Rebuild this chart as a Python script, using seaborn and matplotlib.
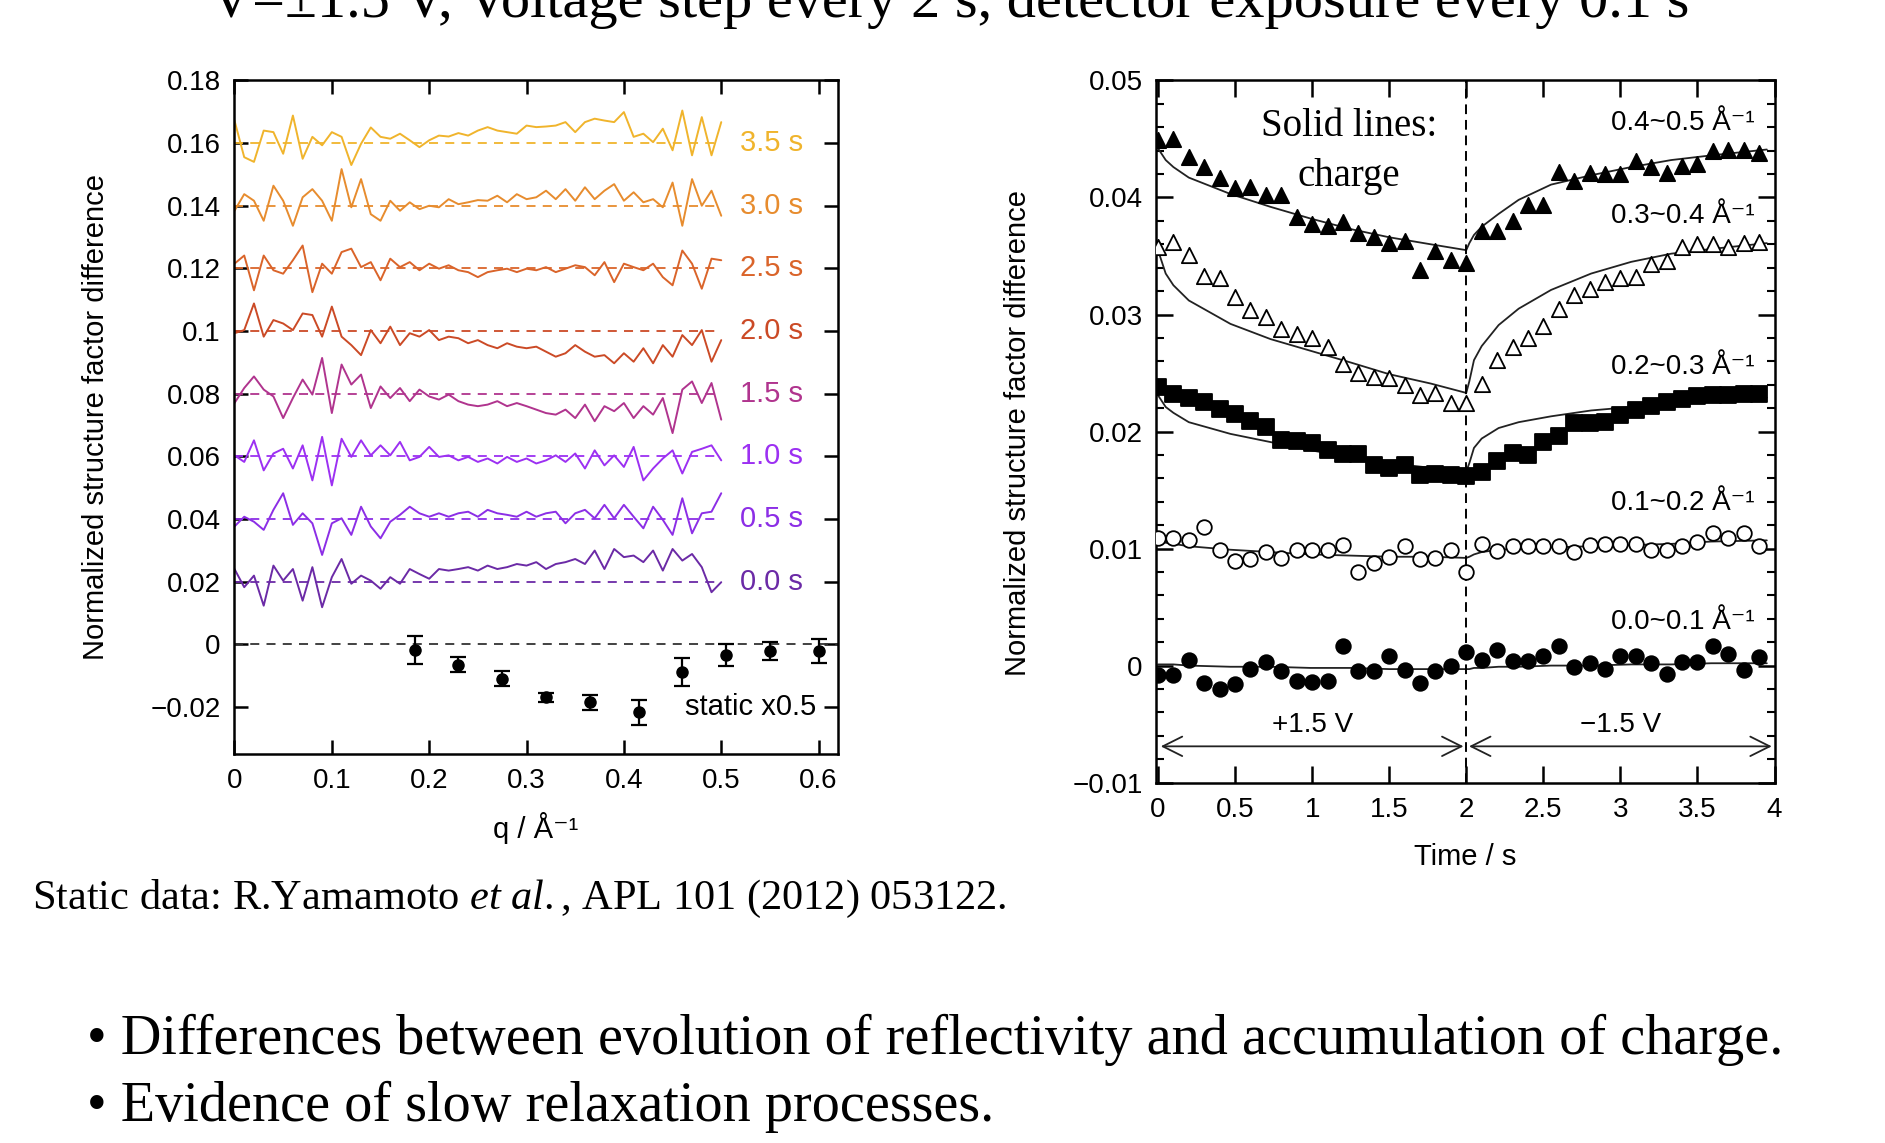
import numpy as np
import pandas as pd
import seaborn as sns
import matplotlib.pyplot as plt
from matplotlib.ticker import MultipleLocator, FuncFormatter

# ---------------- left panel: time-resolved difference curves ----------------
q = np.round(np.arange(0, 0.501, 0.01), 2)
time_labels = ["0.0 s", "0.5 s", "1.0 s", "1.5 s", "2.0 s", "2.5 s", "3.0 s", "3.5 s"]
offsets = [0.02, 0.04, 0.06, 0.08, 0.10, 0.12, 0.14, 0.16]
colors_left = ["#6b2aa6", "#8c2ee6", "#9c30f2", "#b0348e",
               "#cb4a26", "#da642a", "#e78c2e", "#f0b42c"]

# deviations from the dashed baseline, in units of 1e-3
dev_00 = [4, -1.8, 1.9, -7.7, 5.1, 0.3, 4, -6.1, 4.6, -8.2, 1.4, 7.2, -0.7, 1.9, 0.3, -2.3, 1.4,
          -0.7, 4, 2.4, 0.9, 4, 3.5, 4, 4.6, 3.5, 5.1, 4, 4.6, 5.6, 5.1, 6.2, 4, 5.6, 6.2, 7.2,
          5.6, 9.9, 4, 10.4, 7.8, 8.3, 6.2, 9.9, 3.5, 10.4, 6.7, 8.8, 4.6, -3.4, -0.2]
dev_05 = [-2.4, 0.7, -0.9, -3.5, 2.9, 8.2, -1.9, 1.8, -1.4, -11.5, -1.4, 0.2, -5.1, 3.9, -2.4,
          -6.2, -0.9, 1.3, 3.9, 1.8, 0.7, 1.8, 0.7, 1.8, 2.3, 0.7, 2.9, 1.8, 1.3, 0.7, 2.3, 0.7,
          1.8, 2.3, -1.4, 1.8, 2.9, 0.2, 4.5, 0.2, 4.5, 0.7, -3, 3.9, -0.3, -5.1, 6.6, -4.6, 1.8,
          2.3, 8.2]
dev_10 = [0.3, -1.8, 5.1, -4.5, 0.9, 2.4, -3.9, 3.5, -7.7, 6.2, -9.3, 5.6, -0.2, 5.1, 0.3, 3.5,
          0.3, 4.6, -1.3, -0.2, 3, -0.2, 0.3, -1.3, -0.2, -1.8, -0.7, -2.3, -0.2, -1.8, -0.7,
          -2.3, -1.3, 0.3, -1.8, 0.9, -3.9, 1.9, -2.9, 0.3, -3.4, 3, -7.7, -3.9, -0.7, 1.9,
          -5.5, 1.4, 2.4, 3.5, -1.3]
dev_15 = [-3, 1.8, 5.5, 1.3, -0.9, -7.8, -1.4, 4.5, -0.3, 11.4, -6.2, 9.3, 2.9, 6.1, -4.6, 2.3,
          -1.4, 1.8, -2.4, 1.3, -0.9, -1.9, -0.3, -2.4, -3.5, -4, -3.5, -2.4, -4, -3, -4, -5.1,
          -6.2, -6.7, -5.1, -7.8, -3.5, -8.8, -4, -5.6, -3, -7.8, -4, -6.7, -1.4, -12.6, 1.3,
          3.9, -3, 3.4, -8.3]
dev_20 = [-0.7, 0.3, 8.8, -1.8, 3.5, 2.4, 0.3, 5.6, 5.1, -1.8, 7.8, -1.8, -4.5, -7.7, 0.3, -3.9,
          1.4, -4.5, -0.7, -1.8, 0.3, -2.9, -1.8, -2.3, -3.9, -2.9, -4.5, -5.5, -3.9, -5, -5.5,
          -5, -6.6, -8.2, -7.1, -4.5, -6.6, -8.2, -7.7, -10.3, -7.1, -9.8, -5.5, -10.3, -4.5,
          -8.2, -1.3, -4.5, 0.3, -9.8, -2.9]
dev_25 = [1.5, 4.1, -7, 4.1, -0.6, -1.7, 2.6, 7.3, -7.6, 1.5, -1.7, 5.2, 6.3, 0.4, 2, -3.8, 3.1,
          0.4, 2, -0.6, 1.5, -0.1, 1, -0.6, -1.2, -2.8, -1.2, -0.6, -0.1, -1.2, -0.1, -0.6, 0.4,
          -1.2, -0.1, 1, 0.4, -2.2, 2, -4.4, 1.5, 0.4, -0.6, 1.5, -2.8, -5.4, 5.7, 1.5, -6.5,
          3.1, 2.6]
dev_30 = [-1.6, 3.7, 1.6, -4.8, 6.4, 1.6, -6.4, 2.7, 5.3, 1.6, -4.8, 11.7, -0.5, 8.5, -2.7,
          -4.8, 1.6, -1.6, 1.1, -1.1, 0, -0.5, 2.1, 0.5, 1.1, 1.8, 1.6, 3.2, 1.1, 3.7, 2.1, 2.7,
          4.8, 2.1, 5.3, 1.6, 5.9, 2.1, 4.8, 6.9, 1.6, 4.3, 1.1, 2.1, -0.5, 7.4, -6.4, 8.5, 0,
          4.8, -3.2]
dev_35 = [7.2, -4.5, -6, 4, 3.5, -3.4, 8.8, -5, 2, -0.7, 3.5, 2, -7, -0.2, 5, 2, 1.4, 3, 0.9,
          -1.3, 0.9, 2.4, 2.1, 3.2, 2.4, 4, 5.1, 4, 3.5, 3, 5.6, 5.1, 5.3, 5.6, 6.7, 3.5, 6.7,
          7.8, 7.2, 6.7, 9.9, 2, 3, 0.3, 4.6, -2.3, 10.4, -3.9, 8.3, -3.9, 6.7]
deviations = [dev_00, dev_05, dev_10, dev_15, dev_20, dev_25, dev_30, dev_35]

static_q = [0.185, 0.23, 0.275, 0.32, 0.365, 0.415, 0.46, 0.505, 0.55, 0.6]
static_val = [-0.0019, -0.0065, -0.0110, -0.0170, -0.0186, -0.0218, -0.0088, -0.0035, -0.0021, -0.0022]
static_err = [0.0045, 0.0025, 0.0025, 0.0013, 0.0025, 0.0040, 0.0045, 0.0035, 0.0028, 0.0037]

# ---------------- right panel: band-integrated signal vs time ----------------
t_pts = np.round(np.arange(40) * 0.1, 1)
band_labels = ["0.4~0.5 Å⁻¹", "0.3~0.4 Å⁻¹", "0.2~0.3 Å⁻¹", "0.1~0.2 Å⁻¹", "0.0~0.1 Å⁻¹"]
band_label_y = [0.0464, 0.0384, 0.0255, 0.0139, 0.0037]
r45 = [0.0449, 0.0450, 0.0435, 0.0426, 0.0417, 0.0408, 0.0409, 0.0402, 0.0402, 0.0383,
       0.0377, 0.0376, 0.0379, 0.0370, 0.0366, 0.0361, 0.0363, 0.0338, 0.0354, 0.0347,
       0.0344, 0.0371, 0.0371, 0.0380, 0.0394, 0.0394, 0.0422, 0.0414, 0.0421, 0.0420,
       0.0420, 0.0431, 0.0426, 0.0421, 0.0427, 0.0429, 0.0440, 0.0441, 0.0441, 0.0438]
r34 = [0.0358, 0.0362, 0.0351, 0.0333, 0.0331, 0.0315, 0.0304, 0.0298, 0.0288, 0.0283,
       0.0280, 0.0272, 0.0258, 0.0250, 0.0247, 0.0246, 0.0240, 0.0231, 0.0233, 0.0224,
       0.0224, 0.0241, 0.0261, 0.0272, 0.0280, 0.0290, 0.0305, 0.0317, 0.0322, 0.0328,
       0.0331, 0.0332, 0.0343, 0.0346, 0.0358, 0.0360, 0.0360, 0.0358, 0.0361, 0.0362]
r23 = [0.0238, 0.0232, 0.0229, 0.0225, 0.0219, 0.0215, 0.0209, 0.0204, 0.0193, 0.0192,
       0.0190, 0.0184, 0.0181, 0.0181, 0.0171, 0.0169, 0.0171, 0.0163, 0.0164, 0.0163,
       0.0162, 0.0165, 0.0175, 0.0182, 0.0180, 0.0191, 0.0196, 0.0207, 0.0207, 0.0208,
       0.0214, 0.0218, 0.0222, 0.0225, 0.0228, 0.0230, 0.0231, 0.0231, 0.0232, 0.0232]
r12 = [0.0109, 0.0109, 0.0107, 0.0118, 0.0099, 0.0089, 0.0091, 0.0097, 0.0092, 0.0099,
       0.0099, 0.0099, 0.0103, 0.0080, 0.0088, 0.0093, 0.0102, 0.0091, 0.0092, 0.0099,
       0.0080, 0.0104, 0.0098, 0.0102, 0.0102, 0.0102, 0.0102, 0.0097, 0.0103, 0.0104,
       0.0104, 0.0104, 0.0099, 0.0099, 0.0102, 0.0106, 0.0113, 0.0109, 0.0113, 0.0102]
r01 = [-0.0008, -0.0008, 0.0005, -0.0015, -0.0020, -0.0016, -0.0003, 0.0003, -0.0005, -0.0013,
       -0.0014, -0.0013, 0.0017, -0.0005, -0.0005, 0.0008, -0.0004, -0.0015, -0.0005, 0.0000,
       0.0012, 0.0005, 0.0013, 0.0004, 0.0004, 0.0008, 0.0017, -0.0001, 0.0002, -0.0003,
       0.0008, 0.0008, 0.0002, -0.0007, 0.0003, 0.0003, 0.0017, 0.0010, -0.0004, 0.0007]
band_data = [r45, r34, r23, r12, r01]
band_markers = ["^", "^", "s", "o", "o"]
band_filled = [True, False, True, False, True]
band_sizes = [11, 11, 12, 10.5, 10.5]

# "charge" curves read at these times
t_charge = [0, 0.05, 0.1, 0.2, 0.47, 0.73, 0.99, 1.25, 1.5, 1.77, 2.0, 2.02, 2.05, 2.1,
            2.21, 2.34, 2.55, 2.81, 3.07, 3.33, 3.59, 3.95]
c45 = [0.0442, 0.0432, 0.0426, 0.0417, 0.0403, 0.0392, 0.0382, 0.0373, 0.0366, 0.0360, 0.0355,
       0.0361, 0.0368, 0.0375, 0.0386, 0.0398, 0.0411, 0.0419, 0.0426, 0.0432, 0.0436, 0.0441]
c34 = [0.0355, 0.0335, 0.0325, 0.0312, 0.0292, 0.0279, 0.0269, 0.0259, 0.0249, 0.0241, 0.0233,
       0.0243, 0.0261, 0.0273, 0.0291, 0.0305, 0.0321, 0.0335, 0.0345, 0.0352, 0.0356, 0.0361]
c23 = [0.0231, 0.0221, 0.0216, 0.0208, 0.0198, 0.0191, 0.0184, 0.0178, 0.0173, 0.0169, 0.0166,
       0.0173, 0.0186, 0.0194, 0.0203, 0.0208, 0.0213, 0.0218, 0.0221, 0.0224, 0.0227, 0.0229]
c12 = [0.0106, 0.0105, 0.0104, 0.0102, 0.0099, 0.0097, 0.0095, 0.0094, 0.0093, 0.0093, 0.0092,
       0.0093, 0.0095, 0.0097, 0.0099, 0.0100, 0.0101, 0.0102, 0.0103, 0.0104, 0.0106, 0.0107]
c01 = [0.0001, 0.0001, 0.0001, 0.0000, -0.0001, -0.0001, -0.0002, -0.0002, -0.0003, -0.0003,
       -0.0003, -0.0003, -0.0002, -0.0002, -0.0001, -0.0001, 0.0000, 0.0000, 0.0001, 0.0001,
       0.0002, 0.0002]
charge_curves = [c45, c34, c23, c12, c01]

sns.set_theme(style="ticks")
plt.rcParams['font.family'] = ['Liberation Sans', 'DejaVu Sans']
plt.rcParams['mathtext.fontset'] = 'custom'
plt.rcParams['mathtext.rm'] = 'Liberation Serif'
plt.rcParams['mathtext.it'] = 'Liberation Serif:italic'
plt.rcParams['axes.linewidth'] = 1.8
for key in ['text.color', 'axes.labelcolor', 'xtick.color', 'ytick.color', 'axes.edgecolor']:
    plt.rcParams[key] = 'black'

fig = plt.figure(figsize=(18.85, 11.43), dpi=100)
ax1 = fig.add_axes([0.1244, 0.3405, 0.3202, 0.5891])
ax2 = fig.add_axes([0.6135, 0.3153, 0.3279, 0.6143])

fmt = FuncFormatter(lambda v, p: f"{v:g}".replace("-", "\u2212"))

# left panel
for lab, off, col, dev in zip(time_labels, offsets, colors_left, deviations):
    yv = off + np.array(dev) * 1e-3
    sns.lineplot(x=q, y=yv, color=col, lw=1.4, estimator=None, sort=False, ax=ax1)
    ax1.plot([q[0], q[-1]], [off, off], color=col, lw=1.3, ls=(0, (5, 4)))
    ax1.text(0.5195, off, lab, color=col, fontsize=21, va="center", ha="left")
ax1.axhline(0, color="#333333", lw=1.3, ls=(0, (5, 4)))
ax1.errorbar(static_q, static_val, yerr=static_err, fmt="o", color="black", ms=8,
             capsize=6, elinewidth=1.6, capthick=1.6)
ax1.text(0.598, -0.02, "static x0.5", fontsize=21, va="center", ha="right")
ax1.set_xlim(0, 0.62)
ax1.set_ylim(-0.035, 0.18)
ax1.xaxis.set_major_locator(MultipleLocator(0.1))
ax1.yaxis.set_major_locator(MultipleLocator(0.02))
ax1.xaxis.set_major_formatter(fmt)
ax1.yaxis.set_major_formatter(fmt)
ax1.tick_params(direction="in", length=10, width=1.8, labelsize=20, pad=10,
                top=True, right=True)
ax1.set_xlabel("q / Å⁻¹", fontsize=21)
ax1.set_ylabel("Normalized structure factor difference", fontsize=21)
ax1.xaxis.set_label_coords(0.499, -0.087)
ax1.yaxis.set_label_coords(-0.206, 0.50)

# right panel
for lab, ly, vals, mk, filled, ms, cv in zip(band_labels, band_label_y, band_data,
                                            band_markers, band_filled, band_sizes,
                                            charge_curves):
    sns.lineplot(x=t_charge, y=cv, color="#222222", lw=1.3, estimator=None, sort=False, ax=ax2)
    sns.scatterplot(x=t_pts, y=vals, marker=mk, s=ms ** 2,
                    color="black" if filled else "white", edgecolor="black",
                    linewidth=1.3, ax=ax2, zorder=3)
    ax2.text(3.87, ly, lab, fontsize=20, ha="right", va="center")
ax2.axvline(2, color="black", lw=1.4, ls=(0, (5, 3)))
ax2.annotate("", xy=(0, -0.0069), xytext=(2, -0.0069),
             arrowprops=dict(arrowstyle="<->", lw=1.3, mutation_scale=35, color="#222222"))
ax2.annotate("", xy=(2, -0.0069), xytext=(4, -0.0069),
             arrowprops=dict(arrowstyle="<->", lw=1.3, mutation_scale=35, color="#222222"))
ax2.text(1.0, -0.0051, "+1.5 V", fontsize=20, ha="center", va="center")
ax2.text(3.0, -0.0051, "\u22121.5 V", fontsize=20, ha="center", va="center")
ax2.text(1.24, 0.0461, "Solid lines:", fontsize=28, ha="center", va="center",
         family="Liberation Serif")
ax2.text(1.24, 0.0418, "charge", fontsize=28, ha="center", va="center",
         family="Liberation Serif")
ax2.set_xlim(-0.01, 4)
ax2.set_ylim(-0.01, 0.05)
ax2.xaxis.set_major_locator(MultipleLocator(0.5))
ax2.yaxis.set_major_locator(MultipleLocator(0.01))
ax2.yaxis.set_minor_locator(MultipleLocator(0.002))
ax2.xaxis.set_major_formatter(fmt)
ax2.yaxis.set_major_formatter(fmt)
ax2.tick_params(which="major", direction="in", length=12, width=1.8, labelsize=20, pad=10,
                top=True, right=True)
ax2.tick_params(axis="y", which="minor", direction="in", length=6, width=1.5,
                left=True, right=True)
ax2.set_xlabel("Time / s", fontsize=21)
ax2.set_ylabel("Normalized structure factor difference", fontsize=21)
ax2.xaxis.set_label_coords(0.5, -0.086)
ax2.yaxis.set_label_coords(-0.202, 0.498)

# slide texts (the title is cut at the top edge, as on the original slide)
fig.text(0.504, 0.985, "V=±1.5 V, Voltage step every 2 s, detector exposure every 0.1 s",
         fontsize=42, ha="center", va="baseline", family="Liberation Serif")
fig.text(0.0172, 0.2135, r"Static data: R.Yamamoto $\mathit{et\ al.}$, APL 101 (2012) 053122.",
         fontsize=30.5, ha="left", va="center", family="Liberation Serif")
fig.text(0.046, 0.090, "• Differences between evolution of reflectivity and accumulation of charge.",
         fontsize=40.5, ha="left", va="center", family="Liberation Serif")
fig.text(0.046, 0.032, "• Evidence of slow relaxation processes.",
         fontsize=40.5, ha="left", va="center", family="Liberation Serif")

fig.savefig("out.png", dpi=100, facecolor="white")
